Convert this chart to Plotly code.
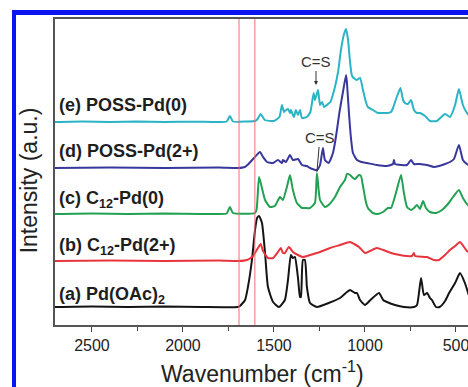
import plotly.graph_objects as go

# ---- data (wavenumber in cm^-1, intensity in a.u.) ----
wn_a = [2703, 2500, 2300, 2100, 1900, 1700, 1687, 1659, 1643, 1621, 1604, 1593, 1582, 1566, 1549, 1533, 1505, 1473, 1440, 1423,
        1407, 1396, 1385, 1368, 1357, 1352, 1341, 1330, 1319, 1302, 1264, 1200, 1137, 1099, 1082, 1055, 1044, 1027, 1000, 970,
        923, 900, 879, 835, 786, 731, 714, 692, 676, 659, 643, 632, 610, 590, 560, 538, 505, 478, 451, 430]
int_a = [0, 0.5, 0, 0.5, 0, 0, 1, 7, 20, 47, 77, 89, 91, 84, 54, 20, 5, 0, 7, 27,
         52, 49, 50, 29, 10, 10, 47, 47, 20, 4, 0, 4, 9, 15, 17, 14, 14, 7, 2, 7,
         14, 7, 5, 2, 0, 0, 2, 29, 12, 14, 9, 7, 0, 0, 6, 14, 24, 34, 24, 12]

wn_b = [2703, 2400, 2100, 1800, 1700, 1648, 1615, 1588, 1573, 1560, 1533, 1505, 1478, 1462, 1451, 1440, 1418, 1396, 1368, 1341,
        1302, 1247, 1192, 1137, 1082, 1060, 1033, 1000, 973, 934, 900, 857, 808, 769, 742, 731, 725, 659, 621, 593,
        560, 533, 505, 478, 456, 440, 430]
int_b = [0, 0.5, 0, 0.5, 0, 1, 5, 13, 17, 10, 3, 3, 9, 13, 8, 8, 14, 9, 6, 4,
         6, 9, 13, 16, 19, 17, 14, 8, 10, 13, 11, 8, 6, 5, 5, 8, 5, 4, 1, 1,
         6, 11, 15, 19, 14, 10, 9]

wn_c = [2703, 2500, 2300, 2100, 1900, 1800, 1760, 1742, 1725, 1604, 1595, 1582, 1566, 1549, 1522, 1495, 1467, 1451, 1429, 1412,
        1396, 1374, 1346, 1330, 1302, 1275, 1264, 1247, 1220, 1200, 1165, 1137, 1110, 1099, 1082, 1066, 1055, 1033, 1022, 1011,
        995, 984, 956, 929, 901, 874, 857, 830, 802, 786, 769, 747, 731, 714, 698, 681, 665, 643, 610, 577,
        549, 516, 484, 462, 440, 430]
int_c = [0, 0.5, 0, 0.5, 0, 0, 0.5, 7, 1, 1, 5, 37, 26, 14, 7, 8, 17, 14, 27, 39,
         24, 11, 6, 6, 6, 11, 41, 14, 7, 9, 17, 27, 34, 40, 39, 36, 35, 39, 38, 28,
         12, 6, 1, 0, 2, 6, 6, 21, 39, 21, 7, 4, 6, 9, 5, 13, 6, 2, 1, 4,
         9, 17, 24, 16, 10, 8]

wn_d = [2703, 2400, 2100, 1800, 1700, 1660, 1640, 1610, 1577, 1560, 1538, 1505, 1478, 1456, 1451, 1435, 1412, 1396, 1368, 1346,
        1320, 1302, 1264, 1247, 1231, 1220, 1200, 1176, 1165, 1154, 1140, 1121, 1104, 1099, 1088, 1077, 1066, 1044, 1020, 989,
        934, 880, 846, 841, 835, 800, 769, 747, 731, 700, 659, 621, 593, 560, 533, 511, 484, 462, 440, 430]
int_d = [0, 0.5, 0, 0.5, 0, 1, 4, 10, 16, 11, 6, 5, 8, 5, 8, 6, 13, 8, 9, 3,
         2, 0, -2, 3, 20, 8, 5, 15, 25, 38, 56, 76, 93, 85, 55, 30, 15, 8, 6, 5,
         3, 2, 4, 8, 4, 3, 3, 8, 4, 4, 3, 1, 2, 4, 6, 9, 23, 8, 4, 3]

wn_e = [2703, 2550, 2400, 2250, 2100, 1950, 1800, 1760, 1742, 1725, 1650, 1604, 1590, 1573, 1550, 1500, 1470, 1456, 1445, 1440,
        1423, 1412, 1407, 1390, 1380, 1368, 1357, 1346, 1320, 1300, 1282, 1275, 1258, 1247, 1236, 1225, 1210, 1190, 1165, 1148,
        1132, 1115, 1104, 1093, 1082, 1071, 1055, 1044, 1027, 1011, 995, 984, 956, 929, 900, 879, 857, 846, 835, 819,
        805, 791, 780, 764, 747, 731, 714, 698, 670, 643, 606, 560, 533, 505, 484, 462, 440, 430]
int_e = [0, 0.5, 0, 0.5, 0, 0.3, 0, 0.5, 6, 0.5, 0.5, 1, 3, 8, 2, 1, 5, 17, 10, 11,
         13, 9, 12, 5, 12, 7, 12, 4, 5, 10, 29, 22, 32, 17, 20, 15, 17, 20, 35, 50,
         72, 88, 93, 82, 60, 46, 43, 42, 44, 32, 20, 15, 12, 9, 9, 9, 10, 14, 20, 28,
         34, 22, 19, 18, 22, 12, 9, 9, 6, 1, 1, 8, 5, 17, 33, 17, 9, 7]

series_labels = ["<b>(a) Pd(OAc)<sub>2</sub></b>", "<b>(b) C<sub>12</sub>-Pd(2+)</b>",
                 "<b>(c) C<sub>12</sub>-Pd(0)</b>", "<b>(d) POSS-Pd(2+)</b>", "<b>(e) POSS-Pd(0)</b>"]
offsets = [18, 64, 111, 157, 203]
label_y = [30, 79, 126, 174, 220]
marker_lines = [1692, 1605]          # red vertical reference lines
cs_peaks = [1269, 1264]              # C=S positions for (e) and (d)
x_ticks = [2500, 2000, 1500, 1000, 500]
x_minor = [2250, 1750, 1250, 750]

colors = ["#141414", "#e8343c", "#22a152", "#38389c", "#2bb3c6"]
FONT = "Liberation Sans, Arial, sans-serif"

fig = go.Figure()
all_series = [(wn_a, int_a), (wn_b, int_b), (wn_c, int_c), (wn_d, int_d), (wn_e, int_e)]
for (wn, it), off, col in zip(all_series, offsets, colors):
    assert len(wn) == len(it)
    fig.add_trace(go.Scatter(x=wn, y=[v + off for v in it], mode="lines",
                             line=dict(color=col, width=2, shape="spline", smoothing=0.5),
                             showlegend=False, hoverinfo="skip"))

for xv in marker_lines:
    fig.add_shape(type="line", xref="x", yref="paper", x0=xv, x1=xv, y0=0, y1=1,
                  line=dict(color="#ef6f6f", width=1))

# blue frame (top and left) around the figure
fig.add_shape(type="rect", xref="paper", yref="paper", x0=-0.1041, x1=-0.0944, y0=-0.21, y1=1.0294,
              fillcolor="#0a14f0", line=dict(width=0))
fig.add_shape(type="rect", xref="paper", yref="paper", x0=-0.1041, x1=1.01, y0=1.0131, y1=1.0294,
              fillcolor="#0a14f0", line=dict(width=0))

for lab, ly in zip(series_labels, label_y):
    fig.add_annotation(x=0.005, xref="paper", y=ly, yref="y", text=lab, showarrow=False,
                       xanchor="left", yanchor="middle", font=dict(family=FONT, size=18, color="#1e1e1e"))

# C=S annotations
fig.add_annotation(x=cs_peaks[0], y=offsets[4] + 37, text="C=S", showarrow=True, arrowhead=2, arrowsize=0.8,
                   arrowwidth=1, arrowcolor="#333", ax=0, ay=-24, font=dict(family=FONT, size=15, color="#333"))
fig.add_annotation(x=cs_peaks[1], y=offsets[3] - 4, text="C=S", showarrow=True, arrowhead=0,
                   arrowwidth=1, arrowcolor="#333", ax=3, ay=-35, font=dict(family=FONT, size=15, color="#333"))

# axis titles
fig.add_annotation(x=0.5036, xref="paper", y=-0.153, yref="paper", text="Wavenumber (cm<sup>-1</sup>)",
                   showarrow=False, xanchor="center", yanchor="middle", font=dict(family=FONT, size=23, color="#222"))
fig.add_annotation(x=-0.062, xref="paper", y=0.474, yref="paper", text="Intensity (a.u.)", textangle=-90,
                   showarrow=False, xanchor="center", yanchor="middle", font=dict(family=FONT, size=23, color="#222"))

fig.update_layout(
    width=468, height=387,
    margin=dict(l=55, r=0, t=19, b=62, autoexpand=False),
    paper_bgcolor="white", plot_bgcolor="white",
    xaxis=dict(range=[2703, 434], tickvals=x_ticks, ticks="outside", ticklen=5, tickwidth=1.2, tickcolor="#444",
               minor=dict(tickvals=x_minor, ticks="outside", ticklen=4, tickwidth=1.2, tickcolor="#444"),
               showline=True, linecolor="#555", linewidth=1.5, mirror=True, showgrid=False, zeroline=False,
               automargin=False, ticklabeloverflow="allow",
               tickfont=dict(family=FONT, size=16, color="#222")),
    yaxis=dict(range=[0, 306], showticklabels=False, ticks="", showline=True, linecolor="#555", linewidth=1.5,
               showgrid=False, zeroline=False, automargin=False),
)

fig.write_html("out.html")
